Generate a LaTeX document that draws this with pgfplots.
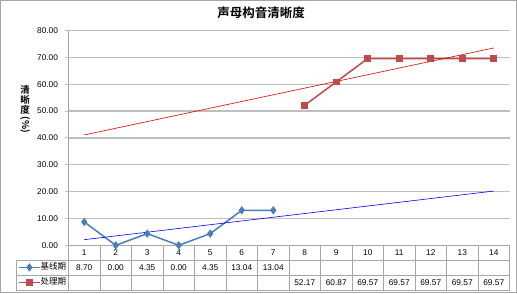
\documentclass[border=0pt]{standalone}
\usepackage{pgfplots}
\pgfplotsset{compat=1.18}
\usepackage{fontspec}
\setmainfont{Liberation Sans}
\newfontfamily\cjk[BoldFont={Noto Sans CJK SC Bold}]{Noto Sans CJK SC}
\definecolor{bser}{HTML}{4A7EBB}
\definecolor{rser}{HTML}{BE4B48}
\definecolor{gridc}{HTML}{BFBFBF}
\definecolor{tabc}{HTML}{A6A6A6}
\begin{document}
\begin{tikzpicture}[x=1pt,y=1pt]
\draw[tabc, line width=1pt] (0.5,0.5) rectangle (516.5,292.5);
\node[font=\cjk\bfseries\fontsize{12.5}{13}\selectfont] at (261,280) {声母构音清晰度};
\begin{scope}[font=\cjk\bfseries\fontsize{9.5}{10}\selectfont, inner sep=0pt]
\node at (25,203) {清};
\node at (25,193) {晰};
\node at (25,183) {度};
\node[rotate=-90] at (25,168) {(\%)};
\end{scope}
\begin{axis}[
  at={(68.5pt,47.7pt)}, anchor=south west,
  scale only axis, width=441pt, height=214.8pt,
  xmin=0.5, xmax=14.5, ymin=0, ymax=80,
  xtick=\empty,
  ytick={0,10,...,80},
  yticklabel style={xshift=-4pt, /pgf/number format/.cd, fixed, fixed zerofill, precision=2, assume math mode=true},
  ticklabel style={font=\fontsize{8.3}{9}\selectfont},
  tick align=outside, major tick length=3pt,
  ytick style={gridc, line width=1pt},
  ymajorgrids, grid style={gridc, line width=1.3pt},
  axis lines*=left,
  axis line style={tabc, line width=0.8pt},
  clip=false,
  legend style={at={(axis description cs:-0.1145,-0.138)}, anchor=west, draw=none, fill=none,
    font=\cjk\fontsize{8.5}{9}\selectfont, inner sep=0pt, row sep=6pt,
    nodes={inner sep=0pt, text height=7pt, text depth=2pt}},
  legend cell align=left,
  legend image code/.code={\draw[mark=none] (0pt,0pt) -- (21pt,0pt); \draw plot coordinates {(10.5pt,0pt)};},
]
\addplot[bser, line width=1.5pt, mark=diamond*, mark size=3pt] coordinates {(1,8.70)(2,0)(3,4.35)(4,0)(5,4.35)(6,13.04)(7,13.04)};
\addlegendentry{基线期}
\addplot[rser, line width=1.5pt, mark=square*, mark size=2.6pt] coordinates {(8,52.17)(9,60.87)(10,69.57)(11,69.57)(12,69.57)(13,69.57)(14,69.57)};
\addlegendentry{处理期}
\addplot[red!85!black, line width=0.6pt, forget plot] coordinates {(1,41.1)(14,73.5)};
\addplot[blue, line width=0.6pt, forget plot] coordinates {(1,2.1)(14,20.2)};
\end{axis}
% data table
\begin{scope}[tabc, line width=0.6pt]
\draw (16,33) -- (509.5,33);
\draw (16,18) -- (509.5,18);
\draw (16,3) -- (509.5,3);
\draw (16,33) -- (16,3);
\foreach \k in {0,...,14} {\draw ({68.5+\k*31.5},47.7) -- ({68.5+\k*31.5},3);}
\end{scope}
\begin{scope}[font=\fontsize{8.3}{9}\selectfont]
\foreach \k in {1,...,14} {\node at ({68.5+(\k-0.5)*31.5},40.5) {\k};}
\foreach \k/\v in {1/8.70,2/0.00,3/4.35,4/0.00,5/4.35,6/13.04,7/13.04} {\node at ({68.5+(\k-0.5)*31.5},25.5) {\v};}
\foreach \k/\v in {8/52.17,9/60.87,10/69.57,11/69.57,12/69.57,13/69.57,14/69.57} {\node at ({68.5+(\k-0.5)*31.5},10.5) {\v};}
\end{scope}
\end{tikzpicture}
\end{document}
